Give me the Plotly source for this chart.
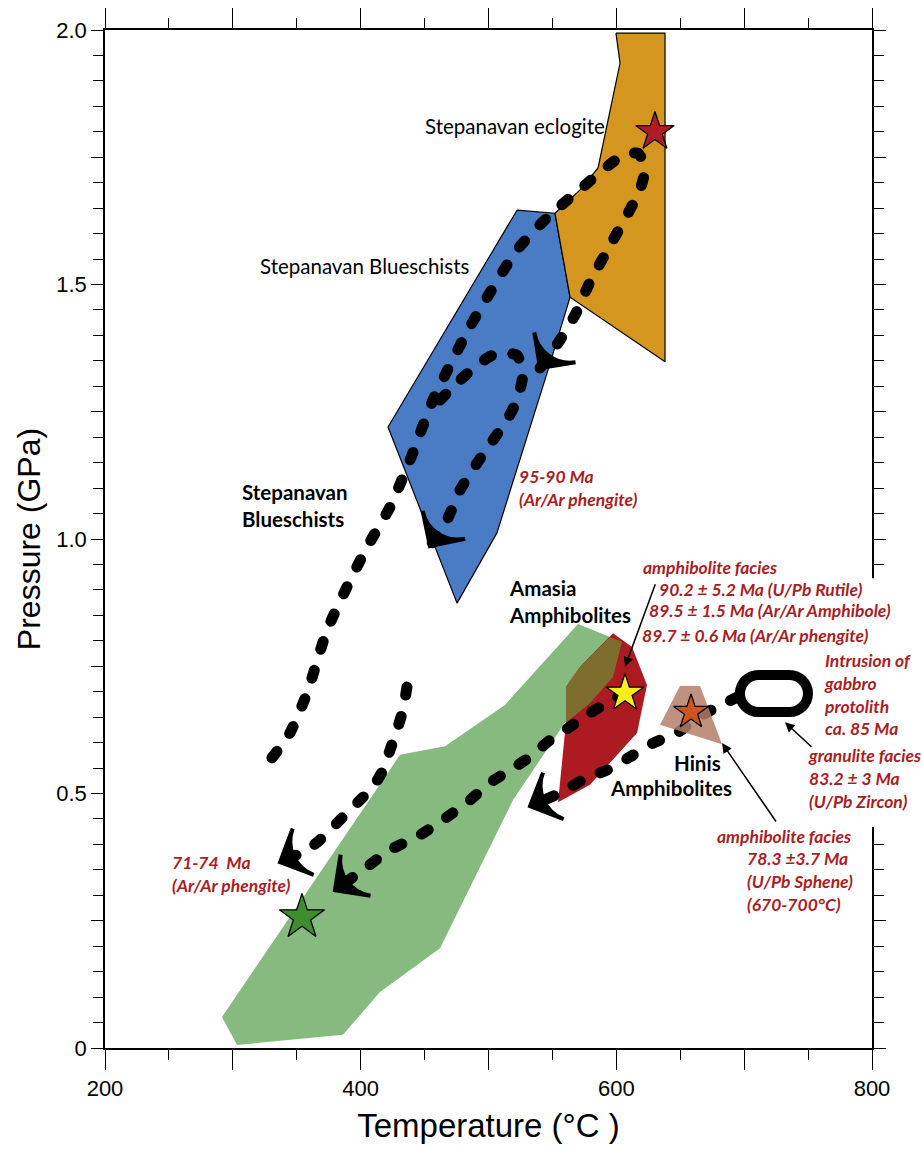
import plotly.graph_objects as go

# ---------------- data (Temperature °C, Pressure GPa) -----------------
blue_T = [522.3, 552.0, 563.8, 545.8, 506.6, 475.4, 421.4]
blue_P = [1.646, 1.640, 1.475, 1.326, 1.012, 0.874, 1.220]

orange_T = [599.7, 638.1, 638.1, 563.8, 552.0, 571.6, 585.7, 595.0, 602.9]
orange_P = [1.994, 1.994, 1.348, 1.475, 1.640, 1.686, 1.729, 1.837, 1.935]

green_T = [291.5, 430.8, 466.0, 512.9, 570.0, 604.4, 597.4, 579.4, 559.8, 519.2, 462.1, 415.1, 386.2, 303.3]
green_P = [0.061, 0.576, 0.593, 0.674, 0.833, 0.798, 0.729, 0.678, 0.639, 0.487, 0.196, 0.110, 0.026, 0.006]

amph_T = [597.4, 612.3, 624.0, 616.2, 579.4, 554.4, 560.6, 560.6, 571.6, 595.0]
amph_P = [0.815, 0.788, 0.713, 0.619, 0.517, 0.483, 0.639, 0.709, 0.749, 0.807]

olive_T = [560.6, 571.6, 595.0, 604.4, 597.4, 579.4, 560.6]
olive_P = [0.709, 0.749, 0.807, 0.798, 0.729, 0.678, 0.639]

brown_T = [634.2, 649.8, 665.5, 682.7]
brown_P = [0.635, 0.711, 0.711, 0.597]

# P-T paths (dotted, arrow at the end)
pathA_T = [330.6, 344.7, 358.0, 373.7, 389.3, 405.0, 423.0, 438.6, 456.6, 485.5, 522.3, 545.8,
           573.1, 602.9, 617.0, 622.4, 618.5, 597.4, 579.4, 567.7, 554.4, 540.3]
pathA_P = [0.570, 0.619, 0.697, 0.821, 0.906, 0.984, 1.063, 1.155, 1.273, 1.417, 1.568, 1.631,
           1.690, 1.750, 1.758, 1.729, 1.686, 1.587, 1.505, 1.440, 1.385, 1.336]
pathB_T = [462.1, 477.7, 493.4, 506.6, 522.3, 527.0, 522.3, 514.5, 503.5, 491.0, 477.7, 467.5, 454.2]
pathB_P = [1.273, 1.312, 1.346, 1.365, 1.361, 1.326, 1.273, 1.234, 1.194, 1.149, 1.096, 1.037, 0.986]
pathD_T = [436.2, 433.1, 428.4, 422.9, 417.5, 409.6, 399.5, 389.3, 378.4, 368.2, 358.0, 336.9]
pathD_P = [0.709, 0.664, 0.625, 0.585, 0.546, 0.513, 0.487, 0.462, 0.434, 0.409, 0.389, 0.365]
pathE_T = [606.8, 596.6, 579.4, 563.8, 548.1, 532.5, 516.8, 501.2, 485.5, 464.4, 444.1, 422.9, 401.8, 379.9]
pathE_P = [0.697, 0.684, 0.658, 0.631, 0.605, 0.572, 0.546, 0.521, 0.487, 0.448, 0.415, 0.389, 0.350, 0.310]
pathF_T = [695.2, 665.5, 647.5, 628.7, 610.7, 592.7, 573.9, 555.9, 532.5]
pathF_P = [0.690, 0.652, 0.619, 0.599, 0.572, 0.546, 0.527, 0.501, 0.475]

# stars
star_T = [630.2, 606.8, 658.4, 354.1]
star_P = [1.800, 0.697, 0.660, 0.257]
star_colors = ["#AE1C26", "#F7EE1A", "#CC5520", "#3E8E30"]
star_sizes = [29, 28, 26, 34]

# granulite loop (bounding box of the stadium)
oval_T = [696.7, 749.9]
oval_P = [0.660, 0.733]

# annotation arrows: (tail T, tail P, head T, head P)
arr_tail_T = [630.9, 753.8, 725.7]
arr_tail_P = [0.914, 0.589, 0.442]
arr_head_T = [606.8, 731.9, 682.7]
arr_head_P = [0.749, 0.640, 0.599]

# labels
black_labels = ["Stepanavan eclogite", "Stepanavan Blueschists"]
black_T = [448.8, 319.7]
black_P = [1.811, 1.536]

bold_labels = ["Stepanavan<br>Blueschists", "Amasia<br>Amphibolites", "Hinis", "Amphibolites"]
bold_T = [305.6, 514.5, 643.5, 593.5]
bold_P = [1.066, 0.878, 0.560, 0.511]

note_labels = ["95-90 Ma<br>(Ar/Ar phengite)", "71-74  Ma<br>(Ar/Ar phengite)",
               "amphibolite facies", "90.2 ± 5.2 Ma (U/Pb Rutile)",
               "89.5 ± 1.5 Ma (Ar/Ar Amphibole)", "89.7 ± 0.6 Ma (Ar/Ar phengite)",
               "Intrusion of<br>gabbro<br>protolith<br>ca. 85 Ma",
               "granulite facies<br>83.2 ± 3 Ma<br>(U/Pb Zircon)",
               "amphibolite facies", "78.3 ±3.7 Ma<br>(U/Pb Sphene)<br>(670-700°C)"]
note_T = [522.3, 250.8, 619.3, 631.8, 624.0, 618.5, 760.9, 748.4, 677.2, 700.6]
note_P = [1.101, 0.342, 0.945, 0.900, 0.859, 0.811, 0.694, 0.530, 0.415, 0.328]

# part of the right-hand frame hidden behind the notes (pressure span)
frame_gap_P = [0.434, 0.923]

x_ticks = [200, 300, 400, 500, 600, 700, 800]
x_ticktext = ["200", "", "400", "", "600", "", "800"]
y_ticks = [0, 0.25, 0.5, 0.75, 1.0, 1.25, 1.5, 1.75, 2.0]
y_ticktext = ["0", "", "0.5", "", "1.0", "", "1.5", "", "2.0"]

# ---------------- figure -----------------
fig = go.Figure()


def polygon(T, P, color, line_color=None, lw=0.0, opacity=1.0):
    fig.add_trace(go.Scatter(
        x=T + [T[0]], y=P + [P[0]], fill="toself", fillcolor=color, mode="lines",
        line=dict(color=line_color if line_color else color, width=lw),
        opacity=opacity, hoverinfo="skip", showlegend=False))


polygon(blue_T, blue_P, "#4A7CC5", "black", 1.2)
polygon(orange_T, orange_P, "#D4961F", "black", 1.2)
polygon(green_T, green_P, "#86BA7F")
polygon(amph_T, amph_P, "#AC1B21")
polygon(olive_T, olive_P, "#7E6E2E")

DOT = dict(color="black", width=11, dash="8px,22px", shape="spline", smoothing=0.6)
for T, P in [(pathA_T, pathA_P), (pathB_T, pathB_P), (pathD_T, pathD_P),
             (pathE_T, pathE_P), (pathF_T, pathF_P)]:
    fig.add_trace(go.Scatter(x=T, y=P, mode="lines", line=DOT, hoverinfo="skip", showlegend=False))
    fig.add_trace(go.Scatter(x=T[-2:], y=P[-2:], mode="markers",
                             marker=dict(symbol="arrow-wide", size=[0, 36], angleref="previous",
                                         color="black", opacity=1, line=dict(width=4, color="black")),
                             hoverinfo="skip", showlegend=False))

polygon(brown_T, brown_P, "#B47E69", opacity=0.85)

fig.add_trace(go.Scatter(x=star_T, y=star_P, mode="markers",
                         marker=dict(symbol="star", size=star_sizes, color=star_colors, opacity=1,
                                     line=dict(color="black", width=1.3)),
                         hoverinfo="skip", showlegend=False))

# stadium-shaped loop
x0, x1 = oval_T
y0, y1 = oval_P
ry = (y1 - y0) / 2
rx = ry * 509 / 1.27834
ym = (y0 + y1) / 2
k = 0.5523
oval_path = (f"M{x0+rx},{y1} L{x1-rx},{y1} "
             f"C{x1-rx+k*rx},{y1} {x1},{ym+k*ry} {x1},{ym} "
             f"C{x1},{ym-k*ry} {x1-rx+k*rx},{y0} {x1-rx},{y0} "
             f"L{x0+rx},{y0} "
             f"C{x0+rx-k*rx},{y0} {x0},{ym-k*ry} {x0},{ym} "
             f"C{x0},{ym+k*ry} {x0+rx-k*rx},{y1} {x0+rx},{y1} Z")
fig.add_shape(type="path", path=oval_path, xref="x", yref="y",
              line=dict(color="black", width=10), fillcolor="rgba(0,0,0,0)")

# white patch hiding the right frame behind the notes
fig.add_shape(type="rect", xref="paper", yref="y", x0=0.99, x1=1.08,
              y0=frame_gap_P[0], y1=frame_gap_P[1], fillcolor="white",
              line=dict(width=0), layer="above")

FONT = "Lato, 'Open Sans', sans-serif"
RED = "#A71E24"

for tT, tP, hT, hP in zip(arr_tail_T, arr_tail_P, arr_head_T, arr_head_P):
    fig.add_annotation(x=hT, y=hP, ax=tT, ay=tP, xref="x", yref="y", axref="x", ayref="y",
                       text="", showarrow=True, arrowhead=2, arrowsize=1.3, arrowwidth=1.5,
                       arrowcolor="black", standoff=0, startstandoff=0)

for txt, T, P in zip(black_labels, black_T, black_P):
    fig.add_annotation(x=T, y=P, text=txt, showarrow=False, xanchor="left", yanchor="middle",
                       font=dict(family=FONT, size=20.5, color="black"))
for txt, T, P in zip(bold_labels, bold_T, bold_P):
    fig.add_annotation(x=T, y=P, text=txt, showarrow=False, xanchor="left", yanchor="middle",
                       align="left", font=dict(family=FONT, size=20.5, color="black", weight="bold"))
for txt, T, P in zip(note_labels, note_T, note_P):
    fig.add_annotation(x=T, y=P, text=txt, showarrow=False, xanchor="left", yanchor="middle",
                       align="left",
                       font=dict(family=FONT, size=17.5, color=RED, weight="bold", style="italic"))

fig.update_xaxes(range=[200, 800], showline=True, linecolor="black", linewidth=1.6, mirror="ticks",
                 automargin=False,
                 showgrid=False, zeroline=False, ticks="outside", tickvals=x_ticks, ticktext=x_ticktext,
                 ticklen=20, tickwidth=1.4, tickcolor="black",
                 minor=dict(dtick=50, ticklen=10, ticks="outside", tickcolor="black", tickwidth=1.2),
                 tickfont=dict(family="Liberation Sans, Arial", size=22, color="black"),
                 title=dict(text="Temperature (°C )", standoff=14,
                            font=dict(family="Liberation Sans, Arial", size=33, color="black")))
fig.update_yaxes(range=[0, 2], showline=True, linecolor="black", linewidth=1.6, mirror="ticks",
                 automargin=False,
                 showgrid=False, zeroline=False, ticks="outside", tickvals=y_ticks, ticktext=y_ticktext,
                 ticklen=12, tickwidth=1.4, tickcolor="black",
                 minor=dict(dtick=0.05, ticklen=10, ticks="outside", tickcolor="black", tickwidth=1.2),
                 tickfont=dict(family="Liberation Sans, Arial", size=22, color="black"),
                 title=dict(text="Pressure (GPa)", standoff=6,
                            font=dict(family="Liberation Sans, Arial", size=32, color="black")))

fig.update_layout(width=923, height=1149, margin=dict(l=105, r=51, t=30, b=101, autoexpand=False),
                  plot_bgcolor="white", paper_bgcolor="white", showlegend=False)

post = """
document.body.style.margin='0';
var gd=document.getElementById('{plot_id}');
function rc(){gd.querySelectorAll('.scatterlayer .js-line').forEach(function(p){
  var d=p.style.strokeDasharray; if(d && d!=='none'){p.style.strokeLinecap='round';}});}
rc(); gd.on('plotly_afterplot', rc);
"""
fig.write_html("out.html", post_script=post, config={"displayModeBar": False})
